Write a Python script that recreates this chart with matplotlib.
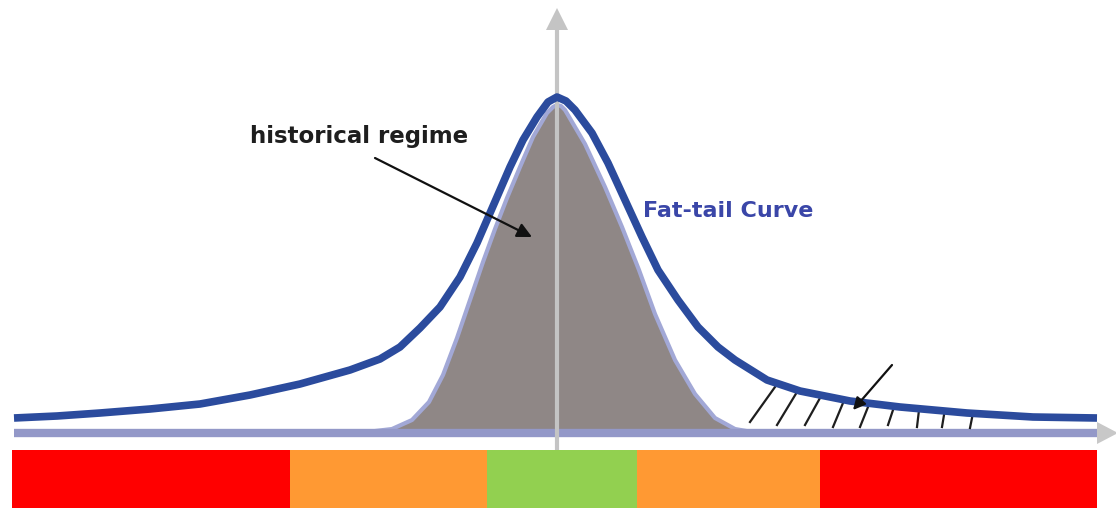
import numpy as np
import matplotlib.pyplot as plt
from matplotlib.patches import Polygon

# x measured from the centre line, height measured above the baseline
fat_x = [-543, -500, -457, -407, -357, -307, -257, -207, -177, -157, -137, -117, -97,
         -80, -70, -60, -47, -34, -20, -9, 0, 9, 18, 35, 51, 68, 85, 101, 121, 141,
         161, 178, 210, 243, 293, 343, 410, 476, 540]
fat_h = [14, 16, 19, 23, 28, 37, 48, 62, 73, 85, 104, 125, 155,
         189, 212, 235, 265, 292, 315, 330, 335, 331, 322, 299, 269, 232, 195, 162, 132, 105,
         85, 72, 52, 41, 31, 25, 19, 15, 14]

norm_x = [-543, -190, -165, -145, -128, -114, -100, -87, -74, -62, -50, -37, -24,
          -10, -4, 0, 4, 8, 28, 48, 65, 82, 98, 118, 138, 158, 178, 195, 540]
norm_h = [0, 0, 3, 12, 30, 57, 94, 132, 170, 203, 234, 265, 295,
          319, 325, 327, 326, 322, 288, 245, 205, 162, 118, 72, 38, 14, 3, 0, 0]

# hatching in the right tail
hatch_x0 = [193, 220, 248, 276, 303, 331, 360, 385, 413]
hatch_h0 = [10, 7, 7, 5, 5, 7, 5, 5, 4]
hatch_x1 = [218, 240, 263, 286, 311, 336, 362, 387, 415]
hatch_h1 = [45, 40, 34, 29, 25, 22, 22, 17, 14]

# colour band under the chart
band_edges = [-545, -267, -70, 80, 263, 540]
band_colors = ['#ff0000', '#ff9933', '#92d050', '#ff9933', '#ff0000']

fig = plt.figure(figsize=(11.16, 5.08), dpi=100)
ax = fig.add_axes([0, 0, 1, 1])
ax.set_xlim(-557, 559)
ax.set_ylim(-76, 432)
ax.axis('off')

# colour band
for i in range(len(band_colors)):
    ax.fill_between([band_edges[i], band_edges[i + 1]], -76, -18,
                    color=band_colors[i], lw=0)

# normal curve (filled)
ax.fill_between(norm_x, 0, norm_h, color='#8f8786', lw=0, zorder=2)
ax.plot(norm_x, norm_h, color='#a2a8d6', lw=3, zorder=3,
        solid_capstyle='butt', solid_joinstyle='round')

# axes
ax.plot([-543, 540], [-1, -1], color='#9398c8', lw=6, zorder=3, solid_capstyle='butt')
ax.add_patch(Polygon([[540, 10], [540, -12], [561, -1]], closed=True,
                     color='#c8c8c8', lw=0, zorder=3))
ax.plot([0, 0], [-18, 404], color='#c4c4c4', lw=3, zorder=4, solid_capstyle='butt')
ax.add_patch(Polygon([[-11, 402], [11, 402], [0, 424]], closed=True,
                     color='#c4c4c4', lw=0, zorder=4))

# hatching
for x0, h0, x1, h1 in zip(hatch_x0, hatch_h0, hatch_x1, hatch_h1):
    ax.plot([x0, x1], [h0, h1], color='#1e1e1e', lw=1.6, zorder=5)

# fat-tail curve
ax.plot(fat_x, fat_h, color='#2b4b9d', lw=5.5, zorder=6,
        solid_capstyle='butt', solid_joinstyle='round')

# labels and arrows
ax.text(-198, 296, 'historical regime', fontsize=16.5, fontweight='bold',
        color='#1e1e1e', ha='center', va='center', zorder=7)
ax.annotate('', xy=(-25, 195), xytext=(-182, 274),
            arrowprops=dict(arrowstyle='-|>', color='#111111', lw=1.6,
                            mutation_scale=22, shrinkA=0, shrinkB=0), zorder=7)
ax.text(86, 221, 'Fat-tail Curve', fontsize=16, fontweight='bold',
        color='#3a46a8', ha='left', va='center', zorder=7)
ax.annotate('', xy=(296, 22), xytext=(335, 67),
            arrowprops=dict(arrowstyle='-|>', color='#111111', lw=1.6,
                            mutation_scale=18, shrinkA=0, shrinkB=0), zorder=7)

fig.savefig('out.png', dpi=100)
